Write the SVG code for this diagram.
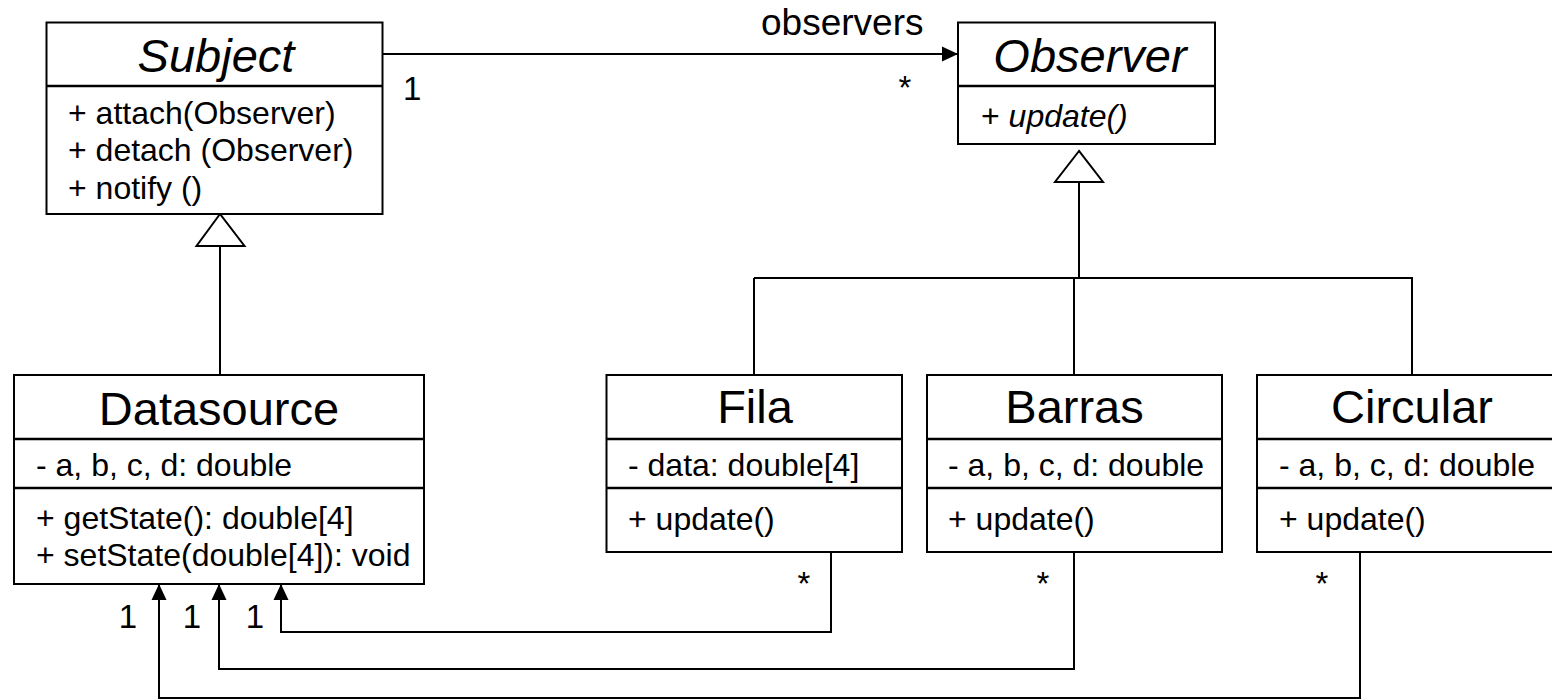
<svg xmlns="http://www.w3.org/2000/svg" width="1552" height="700" viewBox="0 0 1552 700">
<defs>
<marker id="arr" markerWidth="17" markerHeight="17" refX="16" refY="8" orient="auto" markerUnits="userSpaceOnUse">
<path d="M0,0.5 L16,8 L0,15.5 Z" fill="#000"/>
</marker>
<style>
.box{fill:#fff;stroke:#000;stroke-width:2}
.div{stroke:#000;stroke-width:2.5}
.ln{fill:none;stroke:#000;stroke-width:2}
.tri{fill:#fff;stroke:#000;stroke-width:2}
text{font-family:"Liberation Sans",Arial,sans-serif;fill:#000}
.title{font-size:47px;text-anchor:middle}
.mem{font-size:32px}
.lbl{font-size:33px}
.it{font-style:italic}
</style>
</defs>
<rect width="1552" height="700" fill="#fff"/>

<g id="connectors">
<line class="ln" x1="383" y1="54" x2="958" y2="54" marker-end="url(#arr)"/>
<text class="lbl" x="761" y="35" style="font-size:37px">observers</text>
<text class="lbl" x="403" y="100">1</text>
<text class="lbl" x="905" y="99" text-anchor="middle">*</text>

<polygon class="tri" points="220,214 196.5,246 244.5,246"/>
<line class="ln" x1="220" y1="246" x2="220" y2="375"/>

<polygon class="tri" points="1079,151 1055,182 1103,182"/>
<line class="ln" x1="1079" y1="182" x2="1079" y2="278"/>
<line class="ln" x1="754" y1="278" x2="1413" y2="278"/>
<line class="ln" x1="754" y1="278" x2="754" y2="375"/>
<line class="ln" x1="1074" y1="278" x2="1074" y2="375"/>
<line class="ln" x1="1412" y1="278" x2="1412" y2="375"/>

<polyline class="ln" points="831,552 831,632 281,632 281,584" marker-end="url(#arr)"/>
<polyline class="ln" points="1074,552 1074,669 219,669 219,584" marker-end="url(#arr)"/>
<polyline class="ln" points="1360,552 1360,698 159,698 159,584" marker-end="url(#arr)"/>
<text class="lbl" x="128" y="628" text-anchor="middle">1</text>
<text class="lbl" x="192" y="628" text-anchor="middle">1</text>
<text class="lbl" x="255" y="628" text-anchor="middle">1</text>
<text class="lbl" x="804" y="595" text-anchor="middle">*</text>
<text class="lbl" x="1043" y="595" text-anchor="middle">*</text>
<text class="lbl" x="1322" y="595" text-anchor="middle">*</text>
</g>

<g id="subject">
<rect class="box" x="46.5" y="22.5" width="336" height="191.5"/>
<line class="div" x1="46.5" y1="86" x2="382.5" y2="86"/>
<text class="title it" x="216" y="72">Subject</text>
<text class="mem" x="68" y="124">+ attach(Observer)</text>
<text class="mem" x="68" y="161">+ detach (Observer)</text>
<text class="mem" x="68" y="199">+ notify ()</text>
</g>

<g id="observer">
<rect class="box" x="958" y="22.5" width="257" height="121.5"/>
<line class="div" x1="958" y1="86" x2="1215" y2="86"/>
<text class="title it" x="1090" y="72">Observer</text>
<text class="mem" x="981" y="127">+ <tspan class="it">update()</tspan></text>
</g>

<g id="datasource">
<rect class="box" x="14" y="375" width="410" height="209"/>
<line class="div" x1="14" y1="439" x2="424" y2="439"/>
<line class="div" x1="14" y1="488" x2="424" y2="488"/>
<text class="title" x="219" y="425">Datasource</text>
<text class="mem" x="36" y="476">- a, b, c, d: double</text>
<text class="mem" x="36" y="529">+ getState(): double[4]</text>
<text class="mem" x="36" y="566">+ setState(double[4]): void</text>
</g>

<g id="fila">
<rect class="box" x="606.5" y="375" width="295.5" height="177"/>
<line class="div" x1="606.5" y1="439" x2="902" y2="439"/>
<line class="div" x1="606.5" y1="488" x2="902" y2="488"/>
<text class="title" x="755" y="423">Fila</text>
<text class="mem" x="628" y="476">- data: double[4]</text>
<text class="mem" x="628" y="530">+ update()</text>
</g>

<g id="barras">
<rect class="box" x="927" y="375" width="295" height="177"/>
<line class="div" x1="927" y1="439" x2="1222" y2="439"/>
<line class="div" x1="927" y1="488" x2="1222" y2="488"/>
<text class="title" x="1074.5" y="423">Barras</text>
<text class="mem" x="948" y="476">- a, b, c, d: double</text>
<text class="mem" x="948" y="530">+ update()</text>
</g>

<g id="circular">
<rect class="box" x="1257" y="375" width="310" height="177"/>
<line class="div" x1="1257" y1="439" x2="1567" y2="439"/>
<line class="div" x1="1257" y1="488" x2="1567" y2="488"/>
<text class="title" x="1412" y="423">Circular</text>
<text class="mem" x="1279" y="476">- a, b, c, d: double</text>
<text class="mem" x="1279" y="530">+ update()</text>
</g>
</svg>
